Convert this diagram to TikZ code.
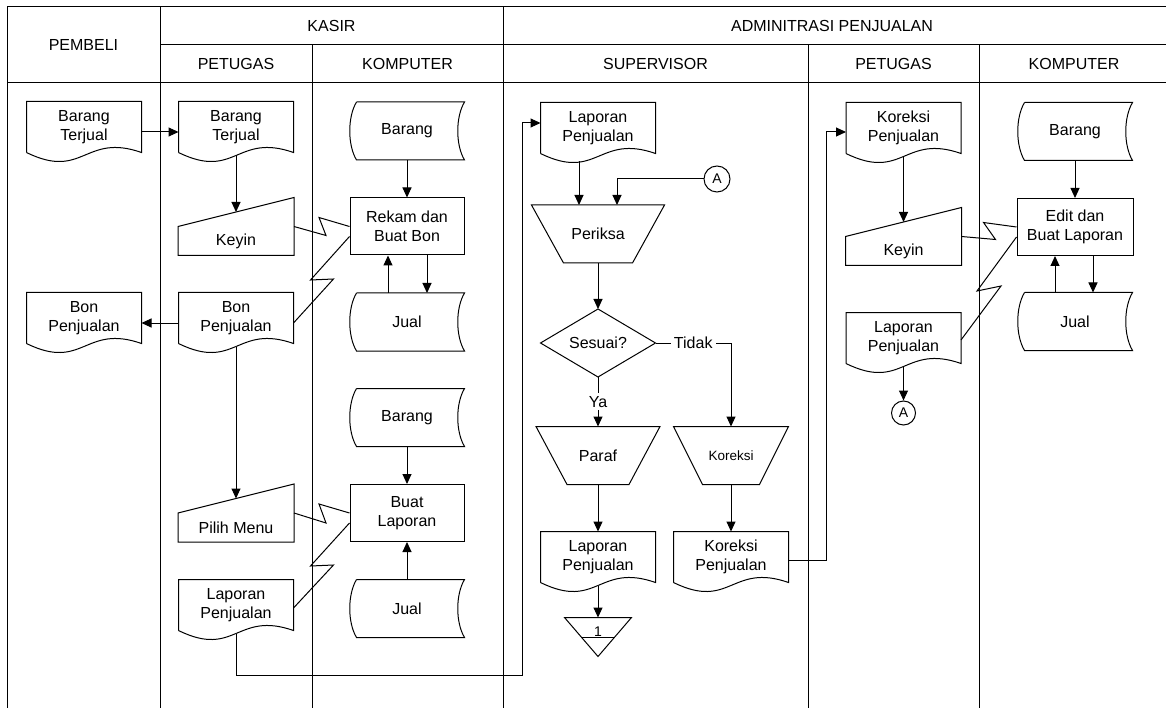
\documentclass[tikz,border=0pt]{standalone}
\usepackage{fontspec}
\setmainfont{Liberation Sans}
\usetikzlibrary{arrows.meta,calc}

\tikzset{
	doc/.style={minimum width=114pt, minimum height=50pt, inner sep=0pt, align=center},
	store/.style={minimum width=114pt, minimum height=57pt, inner sep=0pt, align=center},
	proc/.style={draw, minimum width=114pt, minimum height=57pt, inner sep=0pt, align=center},
	manin/.style={minimum width=115pt, minimum height=28pt, inner sep=0pt},
	manop/.style={minimum height=57pt, inner sep=0pt},
	dec/.style={minimum width=114pt, minimum height=67pt, inner sep=0pt},
	conn/.style={draw, circle, minimum size=26pt, inner sep=0pt, font=\fontsize{14}{16}\selectfont},
	offl/.style={minimum width=66pt, minimum height=19pt, inner sep=0pt, text height=18pt, text depth=0pt, font=\fontsize{14}{16}\selectfont},
	lbl/.style={fill=white, inner sep=3pt},
}

\begin{document}
\begin{tikzpicture}[x=1pt, y=-1pt, line width=1pt, node distance=95.5pt,
	>={Triangle[length=10pt,width=9pt]}, font=\fontsize{16}{19.3}\selectfont]
	\useasboundingbox (0,0) rectangle (1166,708);
	% lanes
	\draw (7,7) -- (1166,7);
	\draw (160,45) -- (1166,45);
	\draw (7,83) -- (1166,83);
	\foreach \x in {7,160,503} \draw (\x,7) -- (\x,708);
	\foreach \x in {312,808,979} \draw (\x,45) -- (\x,708);
	\node (Pembeli) at (83.5,45) {PEMBELI};
	\node (Kasir) at (331.5,26) {KASIR};
	\node (Admin) at (832,26) {ADMINITRASI PENJUALAN};
	\node (PetugasK) at (236,64) {PETUGAS};
	\node (KomputerK) at (407.5,64) {KOMPUTER};
	\node (Supervisor) at (655.5,64) {SUPERVISOR};
	\node (PetugasA) at (893.5,64) {PETUGAS};
	\node (KomputerA) at (1074,64) {KOMPUTER};

	% pembeli and kasir
	\node (BTa) [doc] at (84,127) {Barang\\Terjual};
	\node (BTb) [doc, node distance=152pt, right of=BTa] {Barang\\Terjual};
	\node (KeyinK) [manin, node distance=114pt, below of=BTb] {Keyin};
	\node (BonK) [doc, node distance=77pt, below of=KeyinK] {Bon\\Penjualan};
	\node (BonP) [doc, node distance=152pt, left of=BonK] {Bon\\Penjualan};
	\node (Pilih) [manin, node distance=209.5pt, below of=BonK] {Pilih Menu};
	\node (LapK) [doc, node distance=77.5pt, below of=Pilih] {Laporan\\Penjualan};
	\node (BarangA) [store] at (407,131) {Barang};
	\node (Rekam) [proc, below of=BarangA] {Rekam dan\\Buat Bon};
	\node (JualA) [store, below of=Rekam] {Jual};
	\node (BarangB) [store, below of=JualA] {Barang};
	\node (BuatLap) [proc, below of=BarangB] {Buat\\Laporan};
	\node (JualB) [store, below of=BuatLap] {Jual};
	% supervisor
	\node (LapS) [doc] at (598,128) {Laporan\\Penjualan};
	\node (Periksa) [manop, minimum width=132pt, node distance=106pt, below of=LapS] {Periksa};
	\node (Sesuai) [dec, node distance=109pt, below of=Periksa] {Sesuai?};
	\node (Paraf) [manop, minimum width=123pt, node distance=112.5pt, below of=Sesuai] {Paraf};
	\node (LapS2) [doc, node distance=101.5pt, below of=Paraf] {Laporan\\Penjualan};
	\node (Arsip) [offl, node distance=70.5pt, below of=LapS2] {1};
	\node (Koreksi) [manop, minimum width=114pt, node distance=133pt, right of=Paraf, font=\fontsize{13.5}{16}\selectfont] {Koreksi};
	\node (KorS) [doc, node distance=101.5pt, below of=Koreksi] {Koreksi\\Penjualan};
	\node (ConA) [conn] at (717,179) {A};
	% petugas and komputer of administrasi
	\node (KorP) [doc] at (903.5,128) {Koreksi\\Penjualan};
	\node (KeyinA) [manin, node distance=123pt, below of=KorP] {Keyin};
	\node (LapP) [doc, node distance=87pt, below of=KeyinA] {Laporan\\Penjualan};
	\node (ConB) [conn, minimum size=24pt, node distance=75pt, below of=LapP] {A};
	\node (BarangC) [store] at (1075,131.5) {Barang};
	\node (Edit) [proc, minimum width=116pt, below of=BarangC] {Edit dan\\Buat Laporan};
	\node (JualC) [store, node distance=94.5pt, below of=Edit] {Jual};

	% outlines
	\foreach \n in {BTa,BTb,BonK,BonP,LapK,LapS,LapS2,KorS,KorP,LapP}
		\draw (\n.south west) -- (\n.north west) -- (\n.north east) -- (\n.south east)
			.. controls +(-57,-20) and +(57,28) .. (\n.south west);
	\foreach \n in {BarangA,JualA,BarangB,JualB,BarangC,JualC}
		\draw ([xshift=7pt]\n.north west) -- (\n.north east) .. controls +(-9,15) and +(-9,-15) .. (\n.south east)
			-- ([xshift=7pt]\n.south west) .. controls +(-9,-15) and +(-9,15) .. ([xshift=7pt]\n.north west);
	\foreach \n in {KeyinK,Pilih,KeyinA}
		\draw (\n.south west) -- (\n.north west) -- ([yshift=29pt]\n.north east) -- (\n.south east) -- cycle;
	\foreach \n/\o in {Periksa/32,Paraf/31,Koreksi/29}
		\draw (\n.north west) -- (\n.north east) -- ([xshift=-\o pt]\n.south east) -- ([xshift=\o pt]\n.south west) -- cycle;
	\draw (Sesuai.north) -- (Sesuai.east) -- (Sesuai.south) -- (Sesuai.west) -- cycle;
	\draw (Arsip.north west) -- (Arsip.north east) -- ([yshift=-19pt]Arsip.south) -- cycle;
	\draw ($(Arsip.south west)!0.25!(Arsip.south east)$) -- ($(Arsip.south west)!0.75!(Arsip.south east)$);

	% flow kasir
	\draw[->] ([yshift=-5pt]BTa.east) -- ([yshift=-5pt]BTb.west);
	\draw[->] ([yshift=-3pt]BTb.south) -- ([yshift=14.5pt]KeyinK.north);
	\draw[->] ([yshift=-5pt]BonK.west) -- ([yshift=-5pt]BonP.east);
	\draw[->] ([yshift=-3pt]BonK.south) -- ([yshift=14.5pt]Pilih.north);
	\draw[->] (BarangA) -- (Rekam);
	\draw[->] ([xshift=20pt]Rekam.south) -- ([xshift=20pt]JualA.north);
	\draw[->] ([xshift=-19pt]JualA.north) -- ([xshift=-19pt]Rekam.south);
	\draw[->] (BarangB) -- (BuatLap);
	\draw[->] (JualB) -- (BuatLap);
	\draw (KeyinK.north east) -- ++(32,9) -- ++(-7,-18) -- (Rekam.west);
	\draw ([yshift=-5pt]BonK.east) -- ++(40,-44) -- ++(-23,1) -- ([yshift=-10pt]Rekam.west);
	\draw (Pilih.north east) -- ++(32,10) -- ++(-7,-19) -- (BuatLap.west);
	\draw ([yshift=-3pt]LapK.east) -- ++(40,-43) -- ++(-23,1) -- ([yshift=-10pt]BuatLap.west);
	\draw[->] ([yshift=-3pt]LapK.south) -- ++(0,42) -- ++(286,0) |- ([yshift=5pt]LapS.west);
	% flow supervisor
	\draw[->] ([xshift=-19pt,yshift=-8pt]LapS.south) -- ([xshift=-19pt]Periksa.north);
	\draw[->] (ConA) -| ([xshift=19pt]Periksa.north);
	\draw[->] (Periksa.south) -- (Sesuai.north);
	\draw[->] (Sesuai.east) -| node[lbl, pos=0.25] {Tidak} (Koreksi.north);
	\draw[->] (Sesuai.south) -- node[lbl] {Ya} (Paraf.north);
	\draw[->] (Paraf.south) -- (LapS2.north);
	\draw[->] (Koreksi.south) -- (KorS.north);
	\draw[->] ([yshift=-3pt]LapS2.south) -- (Arsip.north);
	\draw[->] ([yshift=-3pt]KorS.east) -- ++(38,0) |- ([yshift=-4pt]KorP.west);
	% flow administrasi
	\draw[->] ([yshift=-3pt]KorP.south) -- ([yshift=14.5pt]KeyinA.north);
	\draw (KeyinA.north east) -- ++(34,3) -- ++(-12,-17) -- (Edit.west);
	\draw ([yshift=-2pt]LapP.east) -- ++(40,-54) -- ++(-24,5) -- ([yshift=-10pt]Edit.west);
	\draw[->] ([yshift=-3pt]LapP.south) -- (ConB);
	\draw[->] (BarangC) -- (Edit);
	\draw[->] ([xshift=18pt]Edit.south) -- ([xshift=18pt]JualC.north);
	\draw[->] ([xshift=-20pt]JualC.north) -- ([xshift=-20pt]Edit.south);
\end{tikzpicture}
\end{document}
